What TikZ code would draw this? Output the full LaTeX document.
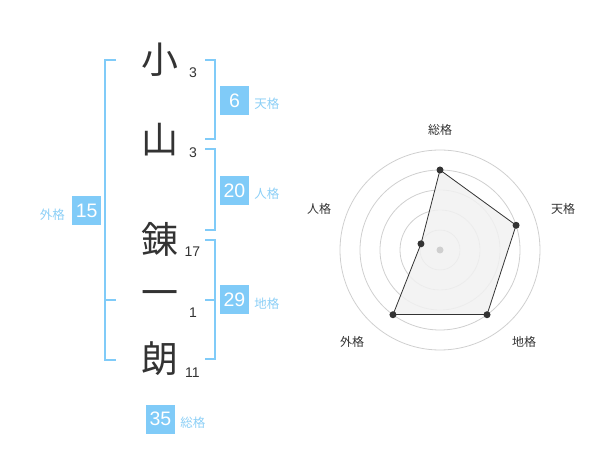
\documentclass[tikz,border=0pt]{standalone}
\usepackage{fontspec}
\setmainfont{Liberation Sans}
\newfontfamily\jpfont{Noto Sans CJK JP}
\usepackage{tikz}
\usetikzlibrary{positioning}
\usetikzlibrary{calc}
\definecolor{kakublue}{HTML}{80CBF8}
\definecolor{kakutext}{HTML}{8CCFF6}
\definecolor{inkgray}{HTML}{333333}
\definecolor{ringgray}{HTML}{CFCFCF}
\definecolor{fillgray}{HTML}{F1F1F1}

\begin{document}
\begin{tikzpicture}[x=1pt,y=-1pt]
\tikzstyle{kanji node}=[text=inkgray,font=\jpfont\fontsize{37}{37}\selectfont,inner sep=0]
\tikzstyle{count node}=[text=inkgray,font=\fontsize{14}{14}\selectfont,inner sep=0]
\tikzstyle{kaku node}=[fill=kakublue,text=white,minimum size=29pt,inner sep=0,font=\fontsize{19.5}{19.5}\selectfont]
\tikzstyle{tag node}=[text=kakutext,font=\jpfont\fontsize{12.5}{12.5}\selectfont,inner sep=0]
\tikzstyle{axis node}=[text=inkgray,font=\jpfont\fontsize{12}{12}\selectfont,inner sep=0]
\tikzset{
  bracket/.style = {draw=kakublue,line width=2pt},
  ring/.style = {draw=ringgray,line width=0.8pt},
  vtx/.style = {circle,fill=inkgray,inner sep=0,minimum size=7pt},
  hub/.style = {circle,fill=ringgray,inner sep=0,minimum size=7pt}
}
\useasboundingbox (0,0) rectangle (600,470);

    \node[kanji node]   (c1)   at (160,60)    {小};
    \node[kanji node]   (c2)   at (160,140)   {山};
    \node[kanji node]   (c3)   at (160,239)   {錬};
    \node[kanji node]   (c4)   at (160,299)   {一};
    \node[kanji node]   (c5)   at (160,359)   {朗};
    \node[count node]   (s1)   at (193,73)    {3};
    \node[count node]   (s2)   at (193,152.5) {3};
    \node[count node]   (s3)   at (192.5,252) {17};
    \node[count node]   (s4)   at (193,313)   {1};
    \node[count node]   (s5)   at (192.5,372.5) {11};

    %%%%%%%%%%%%%%%%%%%%%%%%%%
    \node[kaku node]    (ten)  at (234.5,100.5) {6};
    \node[kaku node]    (jin)  at (234.5,190.5) {20};
    \node[kaku node]    (chi)  at (234.5,300)   {29};
    \node[kaku node]    (gai)  at (86.7,210.5)  {15};
    \node[kaku node]    (sou)  at (160.5,419)   {35};
    \node[tag node]     (tten) [right=5pt of ten,yshift=-3.5pt] {天格};
    \node[tag node]     (tjin) [right=5pt of jin,yshift=-3.5pt] {人格};
    \node[tag node]     (tchi) [right=5pt of chi,yshift=-4pt]   {地格};
    \node[tag node]     (tgai) [left=7pt of gai,yshift=-4pt]    {外格};
    \node[tag node]     (tsou) [right=5pt of sou,yshift=-4pt]   {総格};

    \draw[bracket] (205,60) -- (214.5,60) -- (214.5,139.5) -- (205,139.5);
    \draw[bracket] (205,149.5) -- (214.5,149.5) -- (214.5,230) -- (205,230);
    \draw[bracket] (205,240) -- (214.5,240) -- (214.5,359.5) -- (205,359.5);
    \draw[bracket] (205,300) -- (214.5,300);
    \draw[bracket] (116,60) -- (105,60) -- (105,360) -- (116,360);
    \draw[bracket] (105,300) -- (116,300);

    %%%%%%%%%%%%%%%%%%%%%%%%%%
    \coordinate (ctr) at (440,250);
    \foreach \r in {20,40,60,80,100}
      \draw[ring] (ctr) circle[radius=\r pt];
    \coordinate (psou) at ($(ctr)+(90:80pt)$);
    \coordinate (pten) at ($(ctr)+(18:80pt)$);
    \coordinate (pchi) at ($(ctr)+(-54:80pt)$);
    \coordinate (pgai) at ($(ctr)+(-126:80pt)$);
    \coordinate (pjin) at ($(ctr)+(162:20pt)$);
    \fill[fillgray,opacity=0.85] (psou) -- (pten) -- (pchi) -- (pgai) -- (pjin) -- cycle;
    \node[hub] (h) at (ctr) {};
    \path[draw=inkgray,line width=0.8pt]
        (psou) edge (pten)
        (pten) edge (pchi)
        (pchi) edge (pgai)
        (pgai) edge (pjin)
        (pjin) edge (psou)
    ;
    \node[vtx] (vsou) at (psou) {};
    \node[vtx] (vten) at (pten) {};
    \node[vtx] (vchi) at (pchi) {};
    \node[vtx] (vgai) at (pgai) {};
    \node[vtx] (vjin) at (pjin) {};

    \node[axis node] (asou) at (440,130)   {総格};
    \node[axis node] (aten) at (563,209)   {天格};
    \node[axis node] (achi) at (524,342)   {地格};
    \node[axis node] (agai) at (352,342)   {外格};
    \node[axis node] (ajin) at (319,209)   {人格};
\end{tikzpicture}
\end{document}
